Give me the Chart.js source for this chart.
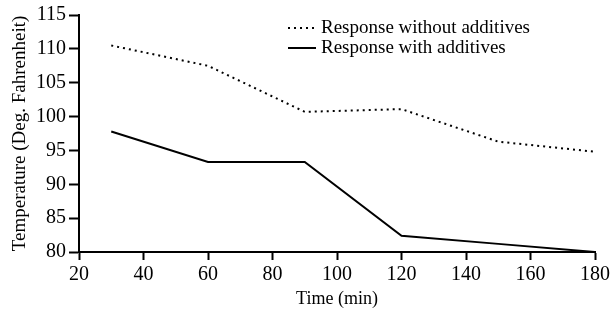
<!DOCTYPE html>
<html>
<head>
<meta charset="utf-8">
<script src="https://cdn.jsdelivr.net/npm/chart.js@4/dist/chart.umd.min.js"></script>
<style>
html,body{margin:0;padding:0;background:#fff;}
#wrap{width:616px;height:324px;position:relative;}
</style>
</head>
<body>
<div id="wrap"><canvas id="c" width="616" height="324"></canvas></div>
<script>
const times = [30, 60, 90, 120, 150, 180];
const withoutAdditives = [110.5, 107.5, 100.7, 101.1, 96.3, 94.8];
const withAdditives = [97.8, 93.3, 93.3, 82.4, 81.2, 80.0];
const seriesLabels = ['Response without additives', 'Response with additives'];
const xTitle = 'Time (min)';
const yTitle = 'Temperature (Deg. Fahrenheit)';

const FONT = 'Liberation Serif, Times New Roman, serif';

const toPoints = vals => times.map((t, i) => ({x: t, y: vals[i]}));

const legendPlugin = {
  id: 'customLegend',
  afterDraw(chart) {
    const ctx = chart.ctx;
    const rows = chart.data.datasets.map(d => ({label: d.label, dash: d.borderDash || [], width: d.borderWidth}));
    const x0 = 288, x1 = 316, tx = 321;
    const ys = [28, 48];
    ctx.save();
    rows.forEach((r, i) => {
      ctx.beginPath();
      ctx.setLineDash(r.dash);
      ctx.lineWidth = r.width;
      ctx.strokeStyle = '#000';
      ctx.moveTo(x0, ys[i]);
      ctx.lineTo(x1, ys[i]);
      ctx.stroke();
      ctx.setLineDash([]);
      ctx.fillStyle = '#000';
      ctx.font = '19px ' + FONT;
      ctx.textBaseline = 'middle';
      ctx.textAlign = 'left';
      ctx.fillText(r.label, tx, ys[i]);
    });
    ctx.restore();
  }
};

new Chart(document.getElementById('c'), {
  type: 'line',
  data: {
    datasets: [
      {
        label: seriesLabels[0],
        data: toPoints(withoutAdditives),
        borderColor: '#000',
        borderWidth: 2,
        borderDash: [2, 4],
        pointRadius: 0,
        fill: false,
        tension: 0
      },
      {
        label: seriesLabels[1],
        data: toPoints(withAdditives),
        borderColor: '#000',
        borderWidth: 2,
        pointRadius: 0,
        fill: false,
        tension: 0
      }
    ]
  },
  options: {
    responsive: false,
    animation: false,
    devicePixelRatio: 1,
    layout: {padding: {top: 13, right: 21, left: 0, bottom: 0}},
    plugins: {legend: {display: false}, tooltip: {enabled: false}},
    scales: {
      x: {
        type: 'linear',
        min: 20, max: 180,
        afterFit: s => { s.height = 72; },
        ticks: {stepSize: 20, color: '#000', font: {family: FONT, size: 20}, padding: 3, maxRotation: 0},
        grid: {display: true, drawOnChartArea: false, drawTicks: true, tickLength: 8, tickColor: '#000', tickWidth: 2},
        border: {display: true, color: '#000', width: 2},
        title: {display: true, text: xTitle, color: '#000', font: {family: FONT, size: 18}, padding: {top: 0, bottom: 14}}
      },
      y: {
        min: 80, max: 115,
        afterFit: s => { s.width = 79; },
        ticks: {stepSize: 5, color: '#000', font: {family: FONT, size: 20}, padding: 3},
        grid: {display: true, drawOnChartArea: false, drawTicks: true, tickLength: 10, tickColor: '#000', tickWidth: 2},
        border: {display: true, color: '#000', width: 2},
        title: {display: true, text: yTitle, color: '#000', font: {family: FONT, size: 19}, padding: {top: 9, bottom: 0}}
      }
    }
  },
  plugins: [legendPlugin]
});
</script>
</body>
</html>
